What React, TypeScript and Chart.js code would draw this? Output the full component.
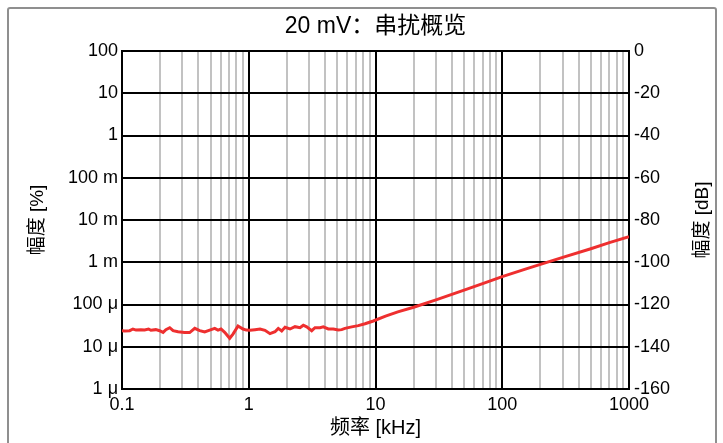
import React, { useEffect, useRef } from 'react';
import { Chart, registerables } from 'chart.js';

Chart.register(...registerables);

const TITLE = '20 mV：串扰概览';
const X_TITLE = '频率 [kHz]';
const Y_LEFT_TITLE = '幅度 [%]';
const Y_RIGHT_TITLE = '幅度 [dB]';

// Crosstalk curve: frequency (kHz) and level (dB)
const freqKHz = [
  0.1, 0.105, 0.115, 0.122, 0.129, 0.141, 0.151, 0.162, 0.169, 0.185,
  0.198, 0.211, 0.222, 0.238, 0.253, 0.277, 0.312, 0.342, 0.375, 0.41,
  0.449, 0.492, 0.539, 0.572, 0.604, 0.646, 0.707, 0.751, 0.823, 0.901,
  0.956, 1.023, 1.12, 1.227, 1.343, 1.471, 1.611, 1.71, 1.82, 1.932,
  2.116, 2.317, 2.537, 2.694, 2.865, 3.138, 3.332, 3.648, 3.874, 4.242,
  4.646, 5.087, 5.41, 5.745, 6.49, 7.316, 8.264, 9.607, 12, 15,
  20, 30, 50, 70, 100, 150, 200, 300, 500, 700, 1000,
];
const levelDb = [
  -132.4, -132.5, -132.4, -131.6, -132.1, -131.9, -132.1, -131.6, -132.2, -131.9,
  -132.4, -133.2, -131.9, -131.0, -132.4, -132.9, -133.2, -133.3, -131.3, -132.4,
  -133.0, -132.1, -131.3, -132.1, -131.6, -133.2, -136.0, -134.0, -130.2, -131.6,
  -132.1, -132.2, -131.9, -131.6, -132.2, -133.8, -132.9, -131.3, -132.5, -130.8,
  -131.6, -130.5, -131.0, -129.8, -130.6, -132.4, -131.0, -131.0, -130.6, -131.6,
  -131.6, -132.1, -131.9, -131.3, -130.6, -130.0, -129.1, -127.8, -125.5, -123.5,
  -121.3, -117.8, -113.2, -110.1, -106.8, -103.4, -101.0, -97.7, -93.6, -90.7, -87.9,
];

const xDecades = [0.1, 1, 10, 100, 1000];
const xDecadeLabels = ['0.1', '1', '10', '100', '1000'];
const xMinorSteps = [2, 3, 4, 5, 6, 7, 8, 9];

const pctTickValues = [1e-6, 1e-5, 1e-4, 1e-3, 1e-2, 1e-1, 1, 10, 100];
const pctTickLabels = ['1 μ', '10 μ', '100 μ', '1 m', '10 m', '100 m', '1', '10', '100'];

const dbTickValues = [-160, -140, -120, -100, -80, -60, -40, -20, 0];

const FONT = '"Liberation Sans", Arial, "Noto Sans CJK SC", sans-serif';

const near = (a: number, b: number) => Math.abs(Math.log10(a) - Math.log10(b)) < 1e-6;

export default function App() {
  const ref = useRef<HTMLCanvasElement | null>(null);

  useEffect(() => {
    if (!ref.current) return;
    const xTicks: number[] = [];
    xDecades.forEach((d, i) => {
      xTicks.push(d);
      if (i < xDecades.length - 1) xMinorSteps.forEach((m) => xTicks.push(+(d * m).toPrecision(6)));
    });

    const rightTitlePlugin = {
      id: 'rightTitle',
      afterDraw(chart: any) {
        const { ctx, chartArea } = chart;
        const s = chart.scales.y2;
        ctx.save();
        ctx.font = `19px ${FONT}`;
        ctx.fillStyle = '#000';
        ctx.textAlign = 'center';
        ctx.textBaseline = 'middle';
        ctx.translate(s.right - 20.5, (chartArea.top + chartArea.bottom) / 2);
        ctx.rotate(-Math.PI / 2);
        ctx.fillText(Y_RIGHT_TITLE, 0, 0);
        ctx.restore();
      },
    };

    const chart = new Chart(ref.current, {
      type: 'line',
      data: {
        datasets: [
          {
            data: freqKHz.map((f, i) => ({ x: f, y: levelDb[i] })),
            yAxisID: 'y2',
            borderColor: '#ee2f2f',
            borderWidth: 3,
            pointRadius: 0,
            tension: 0,
          },
        ],
      },
      options: {
        responsive: false,
        animation: false,
        devicePixelRatio: 1,
        layout: { padding: 0 },
        plugins: {
          legend: { display: false },
          tooltip: { enabled: false },
          title: {
            display: true,
            text: TITLE,
            color: '#000',
            fullSize: false,
            font: { family: FONT, size: 23, weight: 'normal', lineHeight: 1.2 },
            padding: { top: 13, bottom: 10.4 },
          },
        },
        scales: {
          x: {
            type: 'logarithmic',
            position: 'bottom',
            min: 0.1,
            max: 1000,
            afterBuildTicks: (s: any) => {
              s.ticks = xTicks.map((v) => ({ value: v }));
            },
            afterFit: (s: any) => {
              s.height = 54;
            },
            ticks: {
              autoSkip: false,
              maxRotation: 0,
              padding: 5,
              color: '#000',
              font: { family: FONT, size: 18 },
              callback: (v: any) => {
                const i = xDecades.findIndex((d) => near(d, Number(v)));
                return i >= 0 ? xDecadeLabels[i] : '';
              },
            },
            grid: {
              drawTicks: false,
              lineWidth: 2,
              color: (c: any) =>
                c.tick && xDecades.some((d) => near(d, c.tick.value)) ? '#000' : '#c2c2c2',
            },
            border: { display: true, color: '#000', width: 2 },
            title: {
              display: true,
              text: X_TITLE,
              color: '#000',
              font: { family: FONT, size: 20 },
              padding: { top: 0, bottom: 3 },
            },
          },
          y: {
            type: 'logarithmic',
            position: 'left',
            min: 1e-6,
            max: 100,
            afterBuildTicks: (s: any) => {
              s.ticks = pctTickValues.map((v) => ({ value: v }));
            },
            afterFit: (s: any) => {
              s.width = 122;
            },
            ticks: {
              autoSkip: false,
              padding: 4,
              color: '#000',
              font: { family: FONT, size: 18 },
              callback: (v: any) => {
                const i = pctTickValues.findIndex((d) => near(d, Number(v)));
                return i >= 0 ? pctTickLabels[i] : '';
              },
            },
            grid: { drawTicks: false, lineWidth: 2, color: '#000' },
            border: { display: true, color: '#000', width: 2 },
            title: {
              display: true,
              text: Y_LEFT_TITLE,
              color: '#000',
              font: { family: FONT, size: 19 },
              padding: { top: 26, bottom: 0 },
            },
          },
          y2: {
            type: 'linear',
            position: 'right',
            min: -160,
            max: 0,
            afterBuildTicks: (s: any) => {
              s.ticks = dbTickValues.map((v) => ({ value: v }));
            },
            afterFit: (s: any) => {
              s.width = 94;
            },
            ticks: {
              autoSkip: false,
              padding: 5,
              color: '#000',
              font: { family: FONT, size: 18 },
              callback: (v: any) => String(v),
            },
            grid: { display: false, drawTicks: false },
            border: { display: true, color: '#000', width: 2 },
          },
        },
      } as any,
      plugins: [rightTitlePlugin],
    });
    return () => chart.destroy();
  }, []);

  return (
    <>
      <div
        style={{
          position: 'fixed',
          left: 7,
          top: 7,
          width: 710,
          height: 470,
          border: '2px solid #8f8f8f',
          borderRadius: 3,
          boxSizing: 'border-box',
        }}
      />
      <canvas
        ref={ref}
        width={723}
        height={443}
        style={{ position: 'fixed', left: 0, top: 0, width: 723, height: 443 }}
      />
    </>
  );
}
